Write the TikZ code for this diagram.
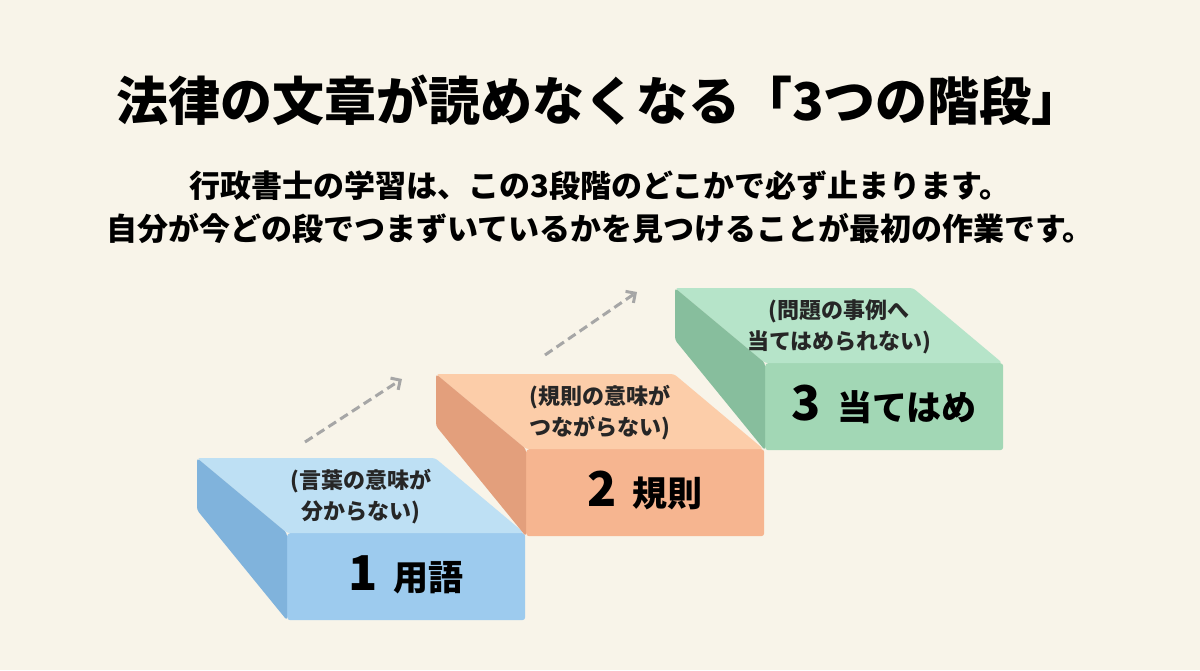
\documentclass[tikz,border=0pt]{standalone}
\usepackage{fontspec}
\setmainfont{Noto Sans CJK JP}
\usetikzlibrary{arrows.meta}
\definecolor{bg}{HTML}{F8F4E9}
\definecolor{bluetop}{HTML}{BEE0F4}
\definecolor{bluefront}{HTML}{9DCBEE}
\definecolor{blueside}{HTML}{80B3DC}
\definecolor{orangetop}{HTML}{FCCDA9}
\definecolor{orangefront}{HTML}{F6B590}
\definecolor{orangeside}{HTML}{E39F7C}
\definecolor{greentop}{HTML}{B6E4C9}
\definecolor{greenfront}{HTML}{A2D7B5}
\definecolor{greenside}{HTML}{87BE9D}
\tikzset{
  front/.style={anchor=north west, minimum width=238pt, minimum height=87pt,
    inner sep=0pt, rounded corners=3pt},
  sub/.style={font=\bfseries\fontsize{22}{31}\selectfont, align=center, text=black!85},
  lab/.style={font=\bfseries\fontsize{35}{40}\selectfont},
  stepup/.style={dashed, dash pattern=on 9pt off 5pt, line width=3pt, draw=black!35,
    -{Straight Barb[length=7pt,width=14pt]}}
}
\begin{document}
\begin{tikzpicture}[x=1pt,y=-1pt]
\fill[bg] (0,0) rectangle (1200,670);
\useasboundingbox (0,0) rectangle (1200,670);

% title and lead
\node[font=\bfseries\fontsize{52}{56}\selectfont] (title) at (600,100) {法律の文章が読めなくなる「3つの階段」};
\node[font=\bfseries\fontsize{31}{43}\selectfont, align=center] (lead) at (600,207)
  {行政書士の学習は、この3段階のどこかで必ず止まります。\\自分が今どの段でつまずいているかを見つけることが最初の作業です。};

% blocks
\foreach \n/\x/\y/\c/\num/\name/\txt in {
  1/287/533/blue/1/用語/{(言葉の意味が\\分からない)},
  2/526/449/orange/2/規則/{(規則の意味が\\つながらない)},
  3/765/363/green/3/当てはめ/{(問題の事例へ\\当てはめられない)}}{
  \node[front, fill=\c front] (f\n) at (\x,\y) {};
  \fill[\c top, rounded corners=3pt] (f\n.north west) -- ++(-90,-75) -- ++(238,0)
    -- ([xshift=-1pt]f\n.north east) -- cycle;
  \fill[\c side, rounded corners=3pt] (f\n.north west) -- ++(-90,-75) -- ++(0,52)
    -- ([yshift=0pt]f\n.south west) -- cycle;
  \node[sub] (s\n) at ([shift={(-45,-36)}]f\n.north) {\txt};
  \node[lab] (l\n) at ([yshift=2pt]f\n.center) {{\fontsize{48}{48}\selectfont\num}\ \ \name};
}

% arrows between steps
\coordinate (a1) at (305,442);
\coordinate (b1) at (402,379);
\coordinate (a2) at (545,355);
\coordinate (b2) at (637,292);
\draw[stepup] (a1) -- (b1);
\draw[stepup] (a2) -- (b2);
\end{tikzpicture}
\end{document}
